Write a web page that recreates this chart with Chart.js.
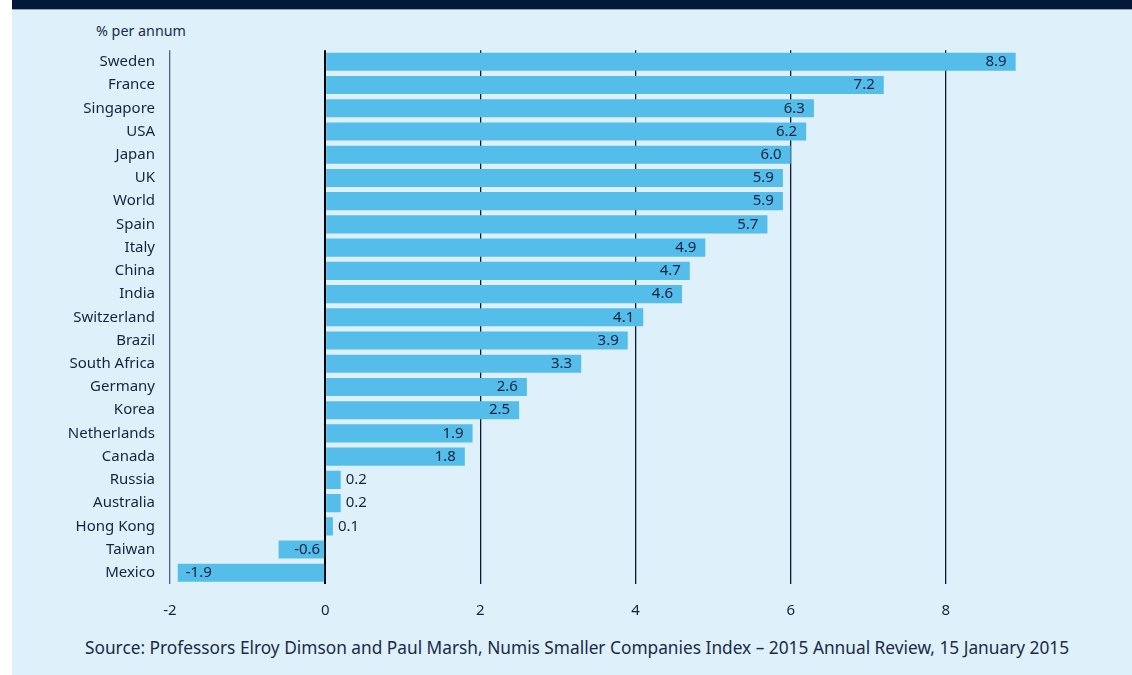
<!DOCTYPE html>
<html>
<head>
<meta charset="utf-8">
<script src="https://cdn.jsdelivr.net/npm/chart.js@4"></script>
<style>
  html, body { margin: 0; padding: 0; background: #ffffff; }
  body { width: 1132px; height: 675px; position: relative; overflow: hidden; font-family: "Noto Sans", sans-serif; }
  #panel { position: absolute; left: 12px; top: 0; width: 1120px; height: 675px; background: #def1fa; }
  #topbar { position: absolute; left: 12px; top: 0; width: 1120px; height: 9px; background: #021a38; border-bottom: 1px solid #95a5b2; }
  #unit { position: absolute; left: 96px; top: 21px; font-size: 14.3px; color: #1a2a48; }
  #source { position: absolute; left: 85px; top: 636px; font-size: 17.3px; color: #1a2a48; white-space: nowrap; }
  #wrap { position: absolute; left: 0; top: 0; width: 1132px; height: 675px; }
</style>
</head>
<body>
<div id="panel"></div>
<div id="topbar"></div>
<div id="unit">% per annum</div>
<div id="source">Source: Professors Elroy Dimson and Paul Marsh, Numis Smaller Companies Index – 2015 Annual Review, 15 January 2015</div>
<div id="wrap"><canvas id="c" width="1132" height="675"></canvas></div>
<script>
const categories = ["Sweden","France","Singapore","USA","Japan","UK","World","Spain","Italy","China","India","Switzerland","Brazil","South Africa","Germany","Korea","Netherlands","Canada","Russia","Australia","Hong Kong","Taiwan","Mexico"];
const values = [8.9, 7.2, 6.3, 6.2, 6.0, 5.9, 5.9, 5.7, 4.9, 4.7, 4.6, 4.1, 3.9, 3.3, 2.6, 2.5, 1.9, 1.8, 0.2, 0.2, 0.1, -0.6, -1.9];
const xTicks = [-2, 0, 2, 4, 6, 8];

const TEXT = "#14233f";
const FONT = "Noto Sans";

const valueLabels = {
  id: "valueLabels",
  afterDatasetsDraw(chart) {
    const ctx = chart.ctx;
    const meta = chart.getDatasetMeta(0);
    const xs = chart.scales.x;
    const zero = xs.getPixelForValue(0);
    ctx.save();
    ctx.font = "15px '" + FONT + "'";
    ctx.fillStyle = TEXT;
    ctx.textBaseline = "middle";
    meta.data.forEach((bar, i) => {
      const v = values[i];
      const txt = v.toFixed(1);
      const end = bar.x;
      const w = ctx.measureText(txt).width;
      const width = Math.abs(end - zero);
      if (v >= 0) {
        if (width > w + 14) { ctx.textAlign = "right"; ctx.fillText(txt, end - 9, bar.y); }
        else { ctx.textAlign = "left"; ctx.fillText(txt, end + 5, bar.y); }
      } else {
        if (width > 100) { ctx.textAlign = "left"; ctx.fillText(txt, end + 8, bar.y); }
        else { ctx.textAlign = "right"; ctx.fillText(txt, zero - 5, bar.y); }
      }
    });
    ctx.restore();
  }
};

new Chart(document.getElementById("c"), {
  type: "bar",
  data: {
    labels: categories,
    datasets: [{
      data: values,
      backgroundColor: "#55bde9",
      borderWidth: 0,
      barPercentage: 0.78,
      categoryPercentage: 1.0
    }]
  },
  options: {
    indexAxis: "y",
    responsive: false,
    animation: false,
    events: [],
    layout: { padding: { left: 0, right: 31, top: 50.2, bottom: 50.6 } },
    plugins: { legend: { display: false }, tooltip: { enabled: false }, title: { display: false } },
    scales: {
      x: {
        min: -2, max: 10,
        afterBuildTicks(scale) { scale.ticks = xTicks.concat([10]).map(v => ({ value: v })); },
        afterFit(scale) { scale.height = 40; },
        border: { display: false },
        grid: {
          drawTicks: false,
          lineWidth: ctx => (ctx.tick && ctx.tick.value === 0 ? 2 : 1.3),
          color: ctx => {
            const v = ctx.tick ? ctx.tick.value : null;
            if (v === 10) return "rgba(0,0,0,0)";
            if (v === -2) return "#4d6582";
            if (v === 0) return "#000000";
            return "#0c1a33";
          }
        },
        ticks: {
          padding: 17,
          color: TEXT,
          font: { family: FONT, size: 15 },
          callback: v => (v === 10 ? "" : String(v))
        }
      },
      y: {
        afterFit(scale) { scale.width = 170; },
        border: { display: false },
        grid: { display: false, drawTicks: false },
        ticks: {
          padding: 15,
          color: TEXT,
          font: { family: FONT, size: 15 },
          autoSkip: false
        }
      }
    }
  },
  plugins: [valueLabels]
});
</script>
</body>
</html>
